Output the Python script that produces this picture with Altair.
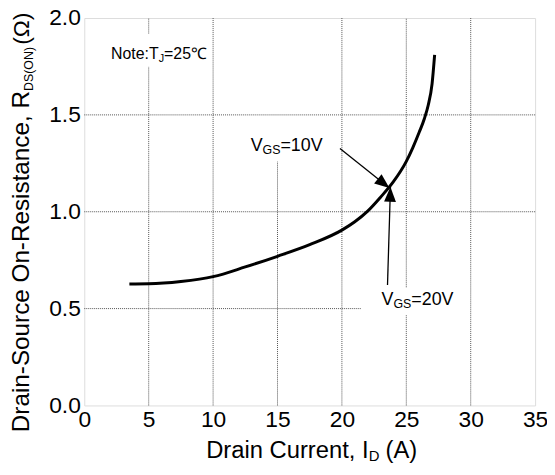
import math
import altair as alt
import pandas as pd

# ---- data ----
current = [3.5, 5.0, 7.5, 10.0, 12.5, 15.0, 17.5, 20.0, 21.0, 22.0, 23.0, 24.0, 25.0, 25.5, 26.0, 26.4, 26.7, 27.0, 27.2]
rdson = [0.627, 0.628, 0.640, 0.665, 0.715, 0.770, 0.830, 0.905, 0.948, 1.003, 1.075, 1.155, 1.260, 1.330, 1.410, 1.480, 1.550, 1.660, 1.810]

x_ticks = [0, 5, 10, 15, 20, 25, 30, 35]
y_ticks = [0.0, 0.5, 1.0, 1.5, 2.0]

# dotted grid segments (some are partial in the reference)
grid_x1 = [5, 5, 10, 15, 20, 25, 25, 30, 0, 0, 0]
grid_x2 = [5, 5, 10, 15, 20, 25, 25, 30, 21.5, 35, 35]
grid_y1 = [0, 1.92, 0, 0, 0, 0, 0.61, 0, 0.5, 1.0, 1.5]
grid_y2 = [1.75, 2.0, 2.0, 1.26, 2.0, 0.47, 2.0, 2.0, 0.5, 1.0, 1.5]

# annotation arrows (start -> tip)
arrow_x1 = [19.85, 23.54]
arrow_y1 = [1.327, 0.622]
arrow_x2 = [23.69, 23.77]
arrow_y2 = [1.122, 1.128]

note_pos = (2.08, 1.786)
vgs10_pos = (12.92, 1.311)
vgs20_pos = (23.08, 0.520)

W, H = 455, 391
XMAX, YMAX = 35, 2.0
FONT = "Liberation Sans"

xscale = alt.Scale(domain=[0, XMAX], nice=False, zero=False)
yscale = alt.Scale(domain=[0, YMAX], nice=False, zero=False)
xaxis = alt.Axis(values=x_ticks, title=None, grid=False, ticks=False, domain=False,
                 labelFontSize=23, labelColor="black", labelFont=FONT, labelPadding=3,
                 labelFlush=False, format="d")
yaxis = alt.Axis(values=y_ticks, title=None, grid=False, ticks=False, domain=False,
                 labelFontSize=23, labelColor="black", labelFont=FONT, labelPadding=4,
                 format=".1f")


def X(f="x"):
    return alt.X(f + ":Q", scale=xscale, axis=xaxis)


def Y(f="y"):
    return alt.Y(f + ":Q", scale=yscale, axis=yaxis)


curve_df = pd.DataFrame({"x": current, "y": rdson})
curve = alt.Chart(curve_df).mark_line(color="black", strokeWidth=3, interpolate="monotone").encode(
    x=X(), y=Y(), order="x:Q")

grid_df = pd.DataFrame({"x": grid_x1, "x2": grid_x2, "y": grid_y1, "y2": grid_y2})
grid = alt.Chart(grid_df).mark_rule(color="#555555", strokeWidth=1, strokeDash=[1, 1]).encode(
    x=X(), x2="x2:Q", y=Y(), y2="y2:Q")

arrow_df = pd.DataFrame({"x": arrow_x1, "y": arrow_y1, "x2": arrow_x2, "y2": arrow_y2})
shafts = alt.Chart(arrow_df).mark_rule(color="black", strokeWidth=1.3).encode(
    x=X(), x2="x2:Q", y=Y(), y2="y2:Q")

head_path = "M0,0L-0.8,2L0.8,2Z"
heads = []
for i in range(len(arrow_x1)):
    dxp = (arrow_x2[i] - arrow_x1[i]) * W / XMAX
    dyp = -(arrow_y2[i] - arrow_y1[i]) * H / YMAX
    ang = math.degrees(math.atan2(dxp, -dyp)) % 360
    hdf = pd.DataFrame({"x": [arrow_x2[i]], "y": [arrow_y2[i]]})
    heads.append(alt.Chart(hdf).mark_point(shape=head_path, filled=True, color="black",
                                          opacity=1, size=225, angle=ang, strokeWidth=0)
                 .encode(x=X(), y=Y()))


def label(pos, pieces):
    """pieces: list of (text, fontsize, dx, dy)"""
    layers = []
    for txt, fs, dx, dy in pieces:
        d = pd.DataFrame({"x": [pos[0]], "y": [pos[1]], "t": [txt]})
        layers.append(alt.Chart(d).mark_text(align="left", baseline="alphabetic", fontSize=fs,
                                             font=FONT, color="black", dx=dx, dy=dy)
                      .encode(x=X(), y=Y(), text="t:N"))
    return layers


note = label(note_pos, [("Note:T", 16, 0, 0), ("J", 11, 48, 3), ("=25℃", 16, 53.5, 0)])
v10 = label(vgs10_pos, [("V", 18, 0, 0), ("GS", 12.5, 12, 3), ("=10V", 18, 30, 0)])
v20 = label(vgs20_pos, [("V", 18, 0, 0), ("GS", 12.5, 12, 3), ("=20V", 18, 30, 0)])


# axis titles with subscripts (pixel positions relative to the plot area)
def ptext(txt, fs, px, py, angle=0):
    d = pd.DataFrame({"t": [txt]})
    return alt.Chart(d).mark_text(align="left", baseline="alphabetic", fontSize=fs, font=FONT,
                                  color="black", angle=angle).encode(
        x=alt.value(px), y=alt.value(py), text="t:N")


xt = [
    ptext("Drain Current, I", 24, 123, 444),
    ptext("D", 15, 287, 447.5),
    ptext("(A)", 24, 304, 444),
]
yt = [
    ptext("Drain-Source On-Resistance, R", 24.5, -56, 418, 270),
    ptext("DS(ON)", 12.5, -52, 73.6, 270),
    ptext("(Ω)", 23, -56, 27, 270),
]

chart = alt.layer(grid, curve, shafts, *heads, *note, *v10, *v20, *xt, *yt).properties(
    width=W, height=H,
    autosize=alt.AutoSizeParams(type="none"),
    padding={"left": 77, "top": 8, "right": 12, "bottom": 59},
).configure_view(stroke="black", strokeWidth=2).configure(background="white")

chart.save("out.html", embed_options={"renderer": "svg", "actions": False})
